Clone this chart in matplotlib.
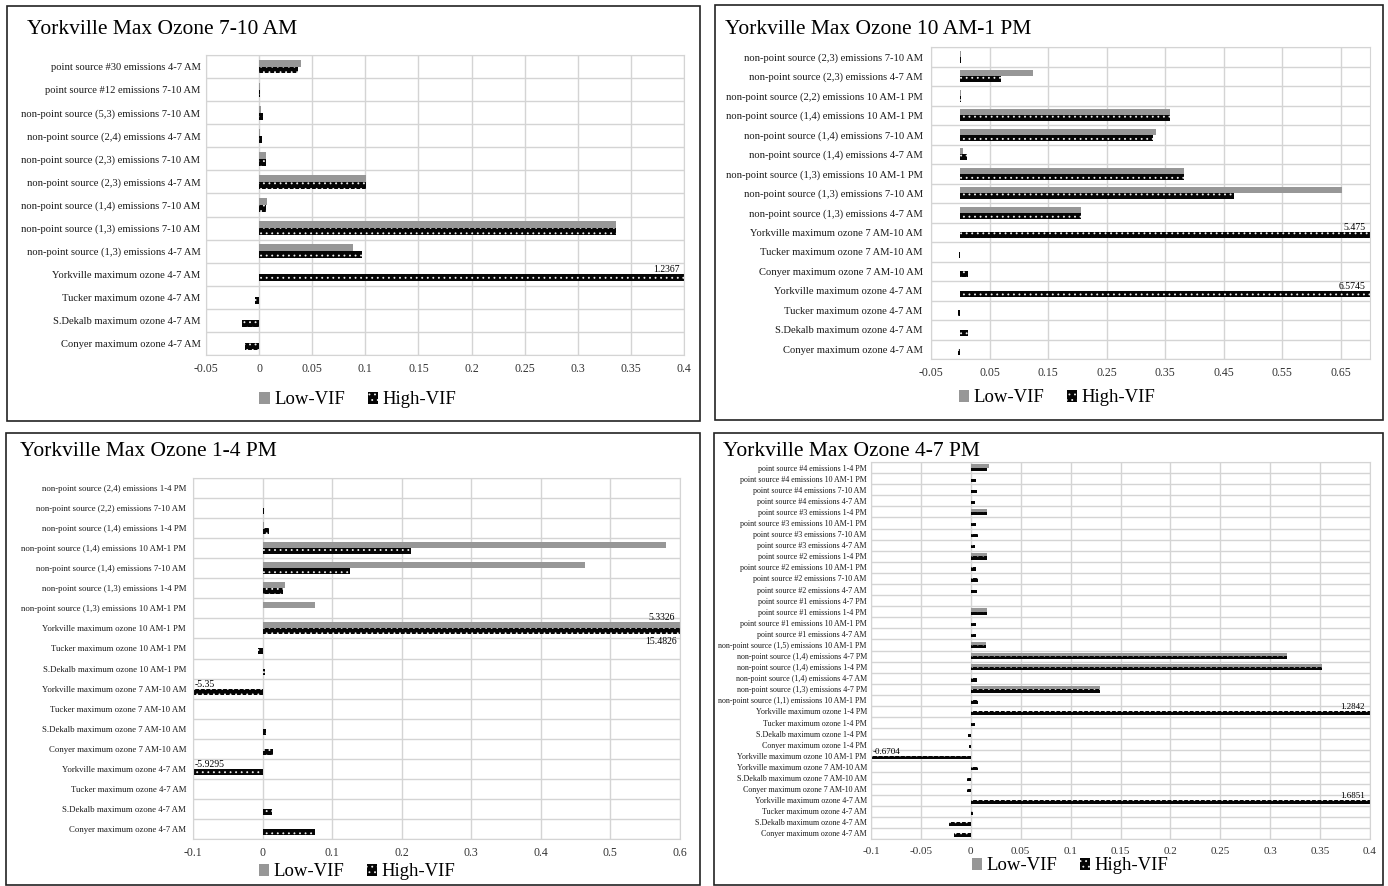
import numpy as np
import matplotlib
matplotlib.use("Agg")
import matplotlib.pyplot as plt
from matplotlib.patches import Rectangle

plt.rcParams['font.family'] = ['Liberation Serif', 'DejaVu Serif']
plt.rcParams['hatch.linewidth'] = 0.6

# ---- data ----
p1_title = "Yorkville Max Ozone 7-10 AM"
p1_labels = ["point source #30 emissions 4-7 AM",
             "point source #12 emissions 7-10 AM",
             "non-point source (5,3) emissions 7-10 AM",
             "non-point source (2,4) emissions 4-7 AM",
             "non-point source (2,3) emissions 7-10 AM",
             "non-point source (2,3) emissions 4-7 AM",
             "non-point source (1,4) emissions 7-10 AM",
             "non-point source (1,3) emissions 7-10 AM",
             "non-point source (1,3) emissions 4-7 AM",
             "Yorkville maximum ozone 4-7 AM",
             "Tucker maximum ozone 4-7 AM",
             "S.Dekalb maximum ozone 4-7 AM",
             "Conyer maximum ozone 4-7 AM"]
p1_low = [0.039, 0.001, 0.002, 0.001, 0.0068, 0.101, 0.007, 0.336, 0.088, 0, 0, 0, 0]
p1_high = [0.0365, 0.001, 0.004, 0.003, 0.0065, 0.101, 0.0065, 0.336, 0.097, 1.2367, -0.004, -0.016, -0.013]

p2_title = "Yorkville Max Ozone 10 AM-1 PM"
p2_labels = ["non-point source (2,3) emissions 7-10 AM",
             "non-point source (2,3) emissions 4-7 AM",
             "non-point source (2,2) emissions 10 AM-1 PM",
             "non-point source (1,4) emissions 10 AM-1 PM",
             "non-point source (1,4) emissions 7-10 AM",
             "non-point source (1,4) emissions 4-7 AM",
             "non-point source (1,3) emissions 10 AM-1 PM",
             "non-point source (1,3) emissions 7-10 AM",
             "non-point source (1,3) emissions 4-7 AM",
             "Yorkville maximum ozone 7 AM-10 AM",
             "Tucker maximum ozone 7 AM-10 AM",
             "Conyer maximum ozone 7 AM-10 AM",
             "Yorkville maximum ozone 4-7 AM",
             "Tucker maximum ozone 4-7 AM",
             "S.Dekalb maximum ozone 4-7 AM",
             "Conyer maximum ozone 4-7 AM"]
p2_low = [0.001, 0.125, 0.001, 0.359, 0.334, 0.004, 0.383, 0.653, 0.207, 0, 0, 0, 0, 0, 0, 0]
p2_high = [0.001, 0.069, 0.001, 0.359, 0.330, 0.011, 0.383, 0.468, 0.207, 5.475, -0.002, 0.013, 6.5745, -0.004, 0.014, -0.004]

p3_title = "Yorkville Max Ozone 1-4 PM"
p3_labels = ["non-point source (2,4) emissions 1-4 PM",
             "non-point source (2,2) emissions 7-10 AM",
             "non-point source (1,4) emissions 1-4 PM",
             "non-point source (1,4) emissions 10 AM-1 PM",
             "non-point source (1,4) emissions 7-10 AM",
             "non-point source (1,3) emissions 1-4 PM",
             "non-point source (1,3) emissions 10 AM-1 PM",
             "Yorkville maximum ozone 10 AM-1 PM",
             "Tucker maximum ozone 10 AM-1 PM",
             "S.Dekalb maximum ozone 10 AM-1 PM",
             "Yorkville maximum ozone 7 AM-10 AM",
             "Tucker maximum ozone 7 AM-10 AM",
             "S.Dekalb maximum ozone 7 AM-10 AM",
             "Conyer maximum ozone 7 AM-10 AM",
             "Yorkville maximum ozone 4-7 AM",
             "Tucker maximum ozone 4-7 AM",
             "S.Dekalb maximum ozone 4-7 AM",
             "Conyer maximum ozone 4-7 AM"]
p3_low = [0.001, 0.001, 0.002, 0.58, 0.463, 0.032, 0.076, 5.3326, 0, 0, 0, 0, 0, 0, 0, 0, 0, 0]
p3_high = [0.001, 0.002, 0.009, 0.214, 0.126, 0.030, 0, 15.4826, -0.006, 0.003, -5.35, 0.001, 0.005, 0.015, -5.9295, 0.001, 0.014, 0.075]

p4_title = "Yorkville Max Ozone 4-7 PM"
p4_labels = ["point source #4 emissions 1-4 PM",
             "point source #4 emissions 10 AM-1 PM",
             "point source #4 emissions 7-10 AM",
             "point source #4 emissions 4-7 AM",
             "point source #3 emissions 1-4 PM",
             "point source #3 emissions 10 AM-1 PM",
             "point source #3 emissions 7-10 AM",
             "point source #3 emissions 4-7 AM",
             "point source #2 emissions 1-4 PM",
             "point source #2 emissions 10 AM-1 PM",
             "point source #2 emissions 7-10 AM",
             "point source #2 emissions 4-7 AM",
             "point source #1 emissions 4-7 PM",
             "point source #1 emissions 1-4 PM",
             "point source #1 emissions 10 AM-1 PM",
             "point source #1 emissions 4-7 AM",
             "non-point source (1,5) emissions 10 AM-1 PM",
             "non-point source (1,4) emissions 4-7 PM",
             "non-point source (1,4) emissions 1-4 PM",
             "non-point source (1,4) emissions 4-7 AM",
             "non-point source (1,3) emissions 4-7 PM",
             "non-point source (1,1) emissions 10 AM-1 PM",
             "Yorkville maximum ozone 1-4 PM",
             "Tucker maximum ozone 1-4 PM",
             "S.Dekalb maximum ozone 1-4 PM",
             "Conyer maximum ozone 1-4 PM",
             "Yorkville maximum ozone 10 AM-1 PM",
             "Yorkville maximum ozone 7 AM-10 AM",
             "S.Dekalb maximum ozone 7 AM-10 AM",
             "Conyer maximum ozone 7 AM-10 AM",
             "Yorkville maximum ozone 4-7 AM",
             "Tucker maximum ozone 4-7 AM",
             "S.Dekalb maximum ozone 4-7 AM",
             "Conyer maximum ozone 4-7 AM"]
p4_low = [0.018, 0, 0, 0, 0.016, 0, 0, 0, 0.016, 0, 0, 0, 0, 0.016, 0, 0, 0.015,
          0.317, 0.352, 0, 0.129, 0, 0, 0, 0, 0, 0, 0, 0, 0, 0, 0, 0, 0]
p4_high = [0.016, 0.0057, 0.0067, 0.0043, 0.016, 0.005, 0.007, 0.004, 0.016, 0.0057, 0.007, 0.006, 0,
           0.016, 0.005, 0.0057, 0.015, 0.317, 0.352, 0.0067, 0.129, 0.007, 1.2842, 0.004, -0.0027,
           -0.0023, -0.6704, 0.0077, -0.004, -0.004, 1.6851, 0.002, -0.0223, -0.0165]

LOW_COLOR = "#979797"
GRID = "#d4d4d4"


def draw_panel(ax, labels, low, high, xmin, xmax, ticks, ylab_size, xlab_size, ypad, val_size):
    y = np.arange(len(labels))
    h = 0.3
    ax.barh(y - h / 2, low, height=h, color=LOW_COLOR, label="Low-VIF", zorder=2)
    ax.barh(y + h / 2, high, height=h, color="#050505", edgecolor="#f0f0f0",
            hatch="...", linewidth=0, label="High-VIF", zorder=2)
    ax.set_xlim(xmin, xmax)
    ax.set_ylim(len(labels) - 0.5, -0.5)
    ax.set_yticks(y)
    ax.set_yticklabels(labels, fontsize=ylab_size, color="#1a1a1a")
    ax.set_xticks(ticks)
    ax.set_xticklabels([f"{t:g}" for t in ticks], fontsize=xlab_size)
    ax.set_yticks(np.arange(len(labels) + 1) - 0.5, minor=True)
    ax.tick_params(axis="both", which="both", length=0)
    ax.tick_params(axis="y", pad=ypad)
    ax.tick_params(axis="x", pad=6, colors="#333333")
    ax.grid(True, axis="x", color=GRID, lw=1, zorder=0)
    ax.grid(True, axis="y", which="minor", color=GRID, lw=1, zorder=0)
    for s in ax.spines.values():
        s.set_color(GRID)
    # value labels for bars running past the axis range
    for i in range(len(labels)):
        both = low[i] > xmax and high[i] > xmax
        if low[i] > xmax:
            ax.text(xmax - (xmax - xmin) * 0.01, y[i] - h, f"{low[i]:g}", ha="right", va="bottom",
                    fontsize=val_size)
        if high[i] > xmax:
            if both:
                ax.text(xmax - (xmax - xmin) * 0.006, y[i] + h + 0.15, f"{high[i]:g}", ha="right",
                        va="top", fontsize=val_size)
            else:
                ax.text(xmax - (xmax - xmin) * 0.01, y[i], f"{high[i]:g}", ha="right", va="bottom",
                        fontsize=val_size)
        if high[i] < xmin:
            ax.text(xmin + (xmax - xmin) * 0.004, y[i], f"{high[i]:g}", ha="left", va="bottom",
                    fontsize=val_size)


fig = plt.figure(figsize=(13.88, 8.86), dpi=100)
W, H = 1388, 886


def box(x0, y0, x1, y1):
    fig.add_artist(Rectangle((x0 / W, 1 - y1 / H), (x1 - x0) / W, (y1 - y0) / H,
                             transform=fig.transFigure, fill=False, ec="#222222", lw=1.2))


def axes_px(x0, y0, x1, y1):
    return fig.add_axes([x0 / W, 1 - y1 / H, (x1 - x0) / W, (y1 - y0) / H])


box(7, 6, 700, 421)
box(715, 5, 1383, 420)
box(6, 433, 700, 885)
box(714, 433, 1383, 885)

ax1 = axes_px(206, 55, 684, 355)
draw_panel(ax1, p1_labels, p1_low, p1_high, -0.05, 0.4, np.round(np.arange(-0.05, 0.401, 0.05), 2),
           7.6, 8.5, 4, 7)
ax2 = axes_px(931, 47, 1370, 359)
draw_panel(ax2, p2_labels, p2_low, p2_high, -0.05, 0.7, np.round(np.arange(-0.05, 0.651, 0.1), 2),
           7.6, 8.5, 6, 7)
ax3 = axes_px(193, 478, 680, 839)
draw_panel(ax3, p3_labels, p3_low, p3_high, -0.1, 0.6, np.round(np.arange(-0.1, 0.601, 0.1), 2),
           6.3, 8.5, 5, 7)
ax4 = axes_px(871, 462, 1370, 839)
draw_panel(ax4, p4_labels, p4_low, p4_high, -0.1, 0.4, np.round(np.arange(-0.1, 0.401, 0.05), 2),
           5.8, 8, 3, 6.5)

fig.text(27 / W, 1 - 30 / H, p1_title, fontsize=15.5, va="center")
fig.text(725 / W, 1 - 30 / H, p2_title, fontsize=15.5, va="center")
fig.text(20 / W, 1 - 451 / H, p3_title, fontsize=15.5, va="center")
fig.text(723 / W, 1 - 452 / H, p4_title, fontsize=15.5, va="center")

for ax, (cx, cy) in [(ax1, (358, 400)), (ax2, (1057, 398)), (ax3, (357, 872)), (ax4, (1070, 866))]:
    hnd, lab = ax.get_legend_handles_labels()
    fig.legend(hnd, lab, loc="center", bbox_to_anchor=(cx / W, 1 - cy / H), ncol=2, frameon=False,
               fontsize=13.5, handlelength=0.55, handleheight=0.55, handletextpad=0.25,
               columnspacing=1.2, borderpad=0)

fig.savefig("out.png", dpi=100)
